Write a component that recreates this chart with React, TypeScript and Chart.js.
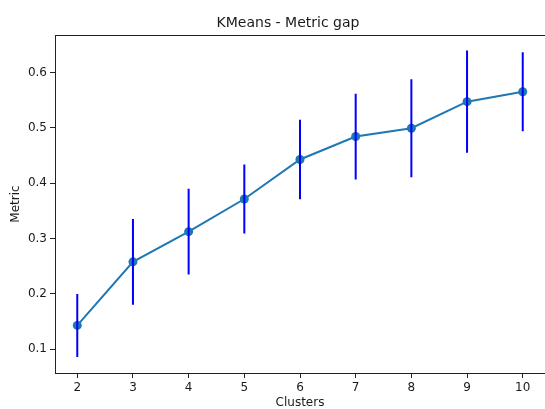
import React, { useEffect, useRef } from "react";
import { Chart, registerables } from "chart.js";

Chart.register(...registerables);

const clusters = [2, 3, 4, 5, 6, 7, 8, 9, 10];
const metric = [0.143, 0.258, 0.3125, 0.3715, 0.443, 0.4845, 0.4995, 0.5475, 0.5655];
const errors = [0.057, 0.0775, 0.0775, 0.0625, 0.072, 0.0775, 0.0885, 0.0925, 0.0715];
const yTicks = [0.1, 0.2, 0.3, 0.4, 0.5, 0.6];
const titleText = "KMeans - Metric gap";
const xLabel = "Clusters";
const yLabel = "Metric";

const FONT = "'DejaVu Sans', sans-serif";

const frame = {
  id: "frame",
  afterDatasetsDraw(chart: any) {
    const { ctx, chartArea: a } = chart;
    ctx.save();
    ctx.strokeStyle = "#222";
    ctx.lineWidth = 1;
    ctx.beginPath();
    ctx.moveTo(a.left, a.top + 0.5);
    ctx.lineTo(a.right, a.top + 0.5);
    ctx.stroke();
    ctx.restore();
  },
};

export default function App() {
  const ref = useRef<HTMLCanvasElement>(null);
  useEffect(() => {
    if (!ref.current) return;
    const errData: any[] = [];
    clusters.forEach((c, i) => {
      errData.push({ x: c, y: metric[i] - errors[i] });
      errData.push({ x: c, y: metric[i] + errors[i] });
      errData.push({ x: c, y: null });
    });
    const chart = new Chart(ref.current, {
      type: "line",
      data: {
        datasets: [
          {
            label: "err",
            data: errData,
            borderColor: "#0000ff",
            borderWidth: 2,
            pointRadius: 0,
            spanGaps: false,
            fill: false,
          },
          {
            label: "metric",
            data: clusters.map((c, i) => ({ x: c, y: metric[i] })),
            borderColor: "#1f77b4",
            backgroundColor: "#1f77b4",
            borderWidth: 2,
            pointRadius: 4.5,
            pointBorderWidth: 0,
            pointBackgroundColor: "#1f77b4",
            fill: false,
          },
        ],
      },
      options: {
        animation: false,
        responsive: false,
        layout: { padding: 0 },
        plugins: {
          legend: { display: false },
          tooltip: { enabled: false },
          title: {
            display: true,
            text: titleText,
            color: "#1a1a1a",
            font: { family: FONT, size: 14, weight: "normal" },
            padding: { top: 14.5, bottom: 3.7 },
          },
        },
        scales: {
          x: {
            type: "linear",
            min: 1.6,
            max: 10.4,
            afterBuildTicks: (s: any) => {
              s.ticks = clusters.map((v) => ({ value: v }));
            },
            afterFit: (s: any) => {
              s.height = 36;
            },
            grid: { drawOnChartArea: false, drawTicks: true, tickLength: 5, color: "#222" },
            border: { display: true, color: "#222", width: 1 },
            ticks: {
              color: "#1a1a1a",
              font: { family: FONT, size: 12 },
              padding: 3,
              maxRotation: 0,
              callback: (v: any) => String(v),
            },
            title: {
              display: true,
              text: xLabel,
              color: "#1a1a1a",
              font: { family: FONT, size: 12 },
              padding: { top: 0, bottom: -1 },
            },
          },
          y: {
            type: "linear",
            min: 0.057,
            max: 0.668,
            afterBuildTicks: (s: any) => {
              s.ticks = yTicks.map((v) => ({ value: v }));
            },
            afterFit: (s: any) => {
              s.width = 55;
            },
            grid: { drawOnChartArea: false, drawTicks: true, tickLength: 5, color: "#222" },
            border: { display: true, color: "#222", width: 1 },
            ticks: {
              color: "#1a1a1a",
              font: { family: FONT, size: 12 },
              padding: 3,
              callback: (v: any) => Number(v).toFixed(1),
            },
            title: {
              display: true,
              text: yLabel,
              color: "#1a1a1a",
              font: { family: FONT, size: 12 },
              padding: { top: 9, bottom: 0 },
            },
          },
          yRight: {
            type: "linear",
            position: "right",
            display: true,
            min: 0,
            max: 1,
            afterBuildTicks: (s: any) => {
              s.ticks = [];
            },
            afterFit: (s: any) => {
              s.width = 31;
            },
            grid: { display: false, drawTicks: false },
            border: { display: false },
            ticks: { display: false },
          },
        },
      },
      plugins: [frame],
    });
    return () => chart.destroy();
  }, []);
  return (
    <div
      style={{
        position: "fixed",
        left: 0,
        top: 0,
        width: 545,
        height: 409,
        overflow: "hidden",
        background: "#fff",
      }}
    >
      <canvas ref={ref} width={576} height={409} style={{ display: "block" }} />
    </div>
  );
}
